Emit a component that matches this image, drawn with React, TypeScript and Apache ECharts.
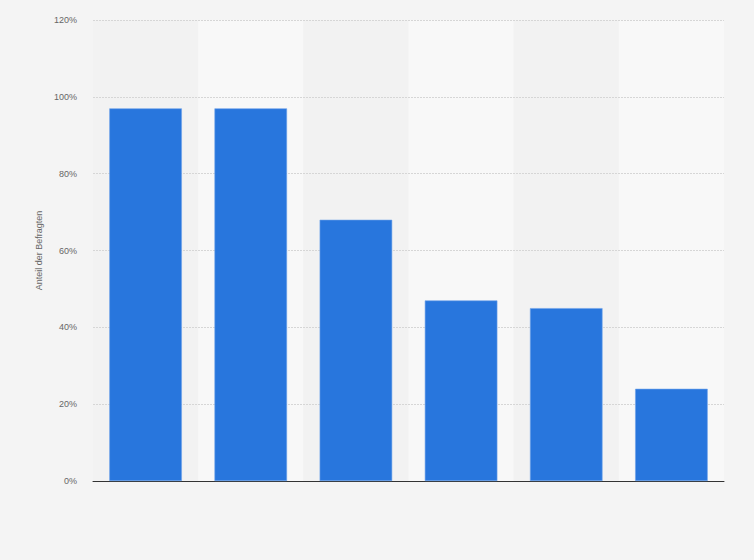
import * as echarts from 'echarts';
import React, { useEffect, useRef } from 'react';

const categories = ['1', '2', '3', '4', '5', '6'];
const shares = [97, 97, 68, 47, 45, 24];
const yTicks = [0, 20, 40, 60, 80, 100, 120];

const App: React.FC = () => {
  const chartRef = useRef<HTMLDivElement>(null);

  useEffect(() => {
    document.body.style.margin = '0';
    const myChart = echarts.init(chartRef.current!, null, { renderer: 'svg' });

    const option = {
      animation: false,
      backgroundColor: '#f4f4f4',
      grid: { left: 93, right: 30, top: 20, bottom: 79 },
      xAxis: {
        type: 'category',
        data: categories,
        z: 0,
        axisLine: { lineStyle: { color: '#333', width: 1 } },
        axisTick: { show: false },
        axisLabel: { show: false },
        splitArea: { show: true, areaStyle: { color: ['#f2f2f2', '#f8f8f8'] } },
      },
      yAxis: {
        type: 'value',
        min: yTicks[0],
        max: yTicks[yTicks.length - 1],
        interval: 20,
        z: 1,
        name: 'Anteil der Befragten',
        nameLocation: 'middle',
        nameGap: 50,
        nameTextStyle: { color: '#666', fontSize: 9, fontFamily: 'Arial, Liberation Sans, sans-serif' },
        axisLine: { show: false },
        axisTick: { show: false },
        axisLabel: {
          formatter: '{value}%',
          color: '#666',
          fontSize: 9,
          margin: 16,
          fontFamily: 'Arial, Liberation Sans, sans-serif',
        },
        splitLine: { showMinLine: false, lineStyle: { color: '#d6d6d6', type: [2, 1] } },
      },
      series: [
        {
          type: 'bar',
          data: shares,
          barWidth: '69%',
          z: 2,
          itemStyle: { color: '#2876dd', borderColor: '#6fa3ea', borderWidth: 0.6 },
        },
      ],
    };

    myChart.setOption(option);

    return () => {
      myChart.dispose();
    };
  }, []);

  return <div ref={chartRef} style={{ width: '754px', height: '560px' }} />;
};

export default App;
